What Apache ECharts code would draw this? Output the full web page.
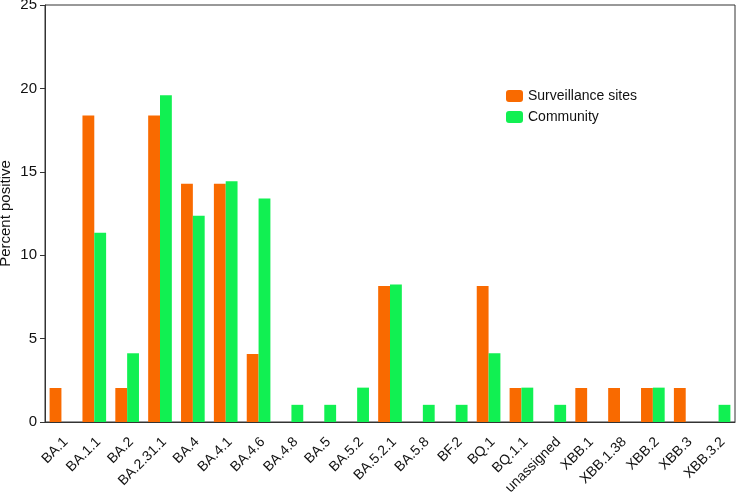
<!DOCTYPE html>
<html lang="en">
<head>
    <meta charset="UTF-8">
    <title>Percent positive by lineage</title>
    <style>
        html, body { margin: 0; padding: 0; background: #fff; }
        #main { width: 736px; height: 496px; }
    </style>
</head>
<body>
    <div id="main"></div>
<script type="text/javascript" src="https://cdn.jsdelivr.net/npm/echarts@6/dist/echarts.min.js"></script>
<script type="text/javascript">
    var lineages = ['BA.1', 'BA.1.1', 'BA.2', 'BA.2.31.1', 'BA.4', 'BA.4.1', 'BA.4.6', 'BA.4.8', 'BA.5', 'BA.5.2',
        'BA.5.2.1', 'BA.5.8', 'BF.2', 'BQ.1', 'BQ.1.1', 'unassigned', 'XBB.1', 'XBB.1.38', 'XBB.2', 'XBB.3', 'XBB.3.2'];
    var surveillance = [2.04, 18.37, 2.04, 18.37, 14.29, 14.29, 4.08, 0, 0, 0,
        8.16, 0, 0, 8.16, 2.04, 0, 2.04, 2.04, 2.04, 2.04, 0];
    var community = [0, 11.34, 4.12, 19.59, 12.37, 14.43, 13.40, 1.03, 1.03, 2.06,
        8.25, 1.03, 1.03, 4.12, 2.06, 1.03, 0, 0, 2.06, 0, 1.03];
    var yTicks = [0, 5, 10, 15, 20, 25];

    var font = '"Liberation Sans", Arial, sans-serif';
    var myChart = echarts.init(document.getElementById('main'));

    var option = {
        backgroundColor: '#fff',
        animation: false,
        textStyle: { fontFamily: font },
        grid: {
            left: 45, right: 1, top: 5, bottom: 74,
            outerBoundsMode: 'none',
            show: true, borderColor: '#333', borderWidth: 1
        },
        legend: {
            orient: 'vertical',
            left: 506, top: 89,
            padding: 0,
            itemWidth: 17, itemHeight: 12, itemGap: 7,
            textStyle: { fontSize: 14, color: '#111', fontFamily: font },
            data: ['Surveillance sites', 'Community']
        },
        xAxis: {
            type: 'category',
            data: lineages,
            axisLine: { lineStyle: { color: '#333' } },
            axisTick: { alignWithLabel: true, length: 5, lineStyle: { color: '#111', width: 1.5 } },
            // small negative padding lets the label end sit a bit right of its tick
            axisLabel: { rotate: 45, fontSize: 14, color: '#111', margin: 22, padding: [0, -6, 0, 0], interval: 0 }
        },
        yAxis: {
            type: 'value',
            min: yTicks[0], max: yTicks[yTicks.length - 1], interval: 5,
            name: 'Percent positive',
            nameLocation: 'middle',
            nameGap: 32,
            nameMoveOverlap: false,
            nameTextStyle: { fontSize: 15, color: '#111' },
            splitLine: { show: false },
            axisLine: { show: true, lineStyle: { color: '#333' } },
            axisTick: { show: true, length: 5, lineStyle: { color: '#333' } },
            axisLabel: { fontSize: 15, color: '#111', margin: 8 }
        },
        series: [
            {
                name: 'Surveillance sites',
                type: 'bar',
                data: surveillance,
                barGap: '0%',
                barCategoryGap: '28%',
                itemStyle: { color: '#f96a00' }
            },
            {
                name: 'Community',
                type: 'bar',
                data: community,
                barGap: '0%',
                barCategoryGap: '28%',
                itemStyle: { color: '#11f052' }
            }
        ]
    };
    myChart.setOption(option);
</script>
</body>
</html>
